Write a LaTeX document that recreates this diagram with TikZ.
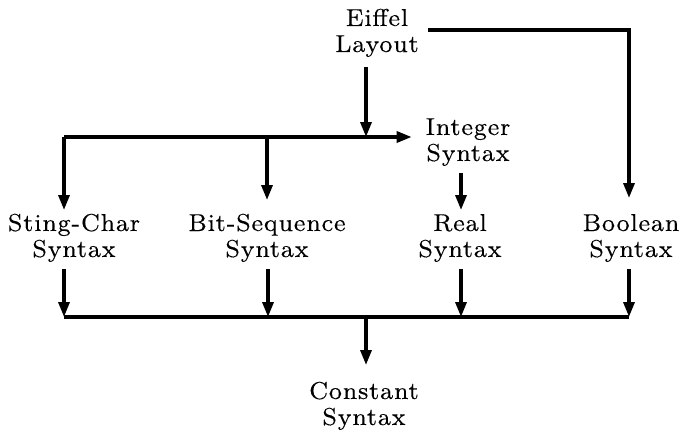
\documentclass[tikz,border=0pt]{standalone}
\usepackage{fontspec}
\newfontfamily\lblfont{lmroman8-regular.otf}[LetterSpace=3.5,FakeBold=0.12]
\usetikzlibrary{arrows.meta}
\newcommand\lstrut{\rule[-6pt]{0pt}{24pt}}
\begin{document}
\begin{tikzpicture}[x=1pt,y=-1pt,
  lbl/.style={align=center,inner sep=0pt,outer sep=0pt,
    font=\lblfont\fontsize{24.5}{26}\selectfont},
  arr/.style={line width=3.3pt,-{Triangle[length=15pt,width=11pt]}},
  ln/.style={line width=3.3pt}]
\useasboundingbox (0,0) rectangle (680,436);
% nodes
\node[lbl] (ef) at (377,33) {\lstrut Eiffel\\\lstrut Layout};
\node[lbl] (in) at (468,142) {\lstrut Integer\\\lstrut Syntax};
\node[lbl] (st) at (74,238) {\lstrut Sting-Char\\\lstrut Syntax};
\node[lbl] (bs) at (267,238) {\lstrut Bit-Sequence\\\lstrut Syntax};
\node[lbl] (re) at (460,238) {\lstrut Real\\\lstrut Syntax};
\node[lbl] (bo) at (631,238) {\lstrut Boolean\\\lstrut Syntax};
\node[lbl] (co) at (364,406) {\lstrut Constant\\\lstrut Syntax};
% junctions
\coordinate (jt) at (366,137);
\coordinate (jl) at (64,137);
\coordinate (jb) at (267,137);
\coordinate (kr) at (629,30);
\coordinate (bl) at (64,317);
\coordinate (bm) at (366,317);
% connectors
\draw[arr,shorten <=9pt,shorten >=15pt] ([yshift=3pt]ef.east) -- (kr) -- (bo.north -| kr);
\draw[arr,shorten <=9pt] (ef.south -| jt) -- (jt);
\draw[arr,shorten >=14pt] (jl) -- (in.west |- jl);
\draw[arr,shorten >=3pt] (jl) -- (st.north -| jl);
\draw[arr,shorten >=13pt] (jb) -- (bs.north -| jb);
\draw[arr,shorten <=6pt,shorten >=3pt] ([xshift=1pt]in.south -| re.north) -- ([xshift=1pt]re.north);
\draw[arr,shorten <=6pt] (st.south -| bl) -- (bl);
\draw[arr,shorten <=6pt] ([xshift=1pt]bs.south) -- ([xshift=1pt]bs.south |- bm);
\draw[arr,shorten <=6pt] ([xshift=1pt]re.south) -- ([xshift=1pt]re.south |- bm);
\draw[arr,shorten <=6pt] (bo.south -| kr) -- (kr |- bm);
\draw[ln] (bl) -- (kr |- bm);
\draw[arr,shorten >=16pt] (bm) -- (co.north -| bm);
\end{tikzpicture}
\end{document}
